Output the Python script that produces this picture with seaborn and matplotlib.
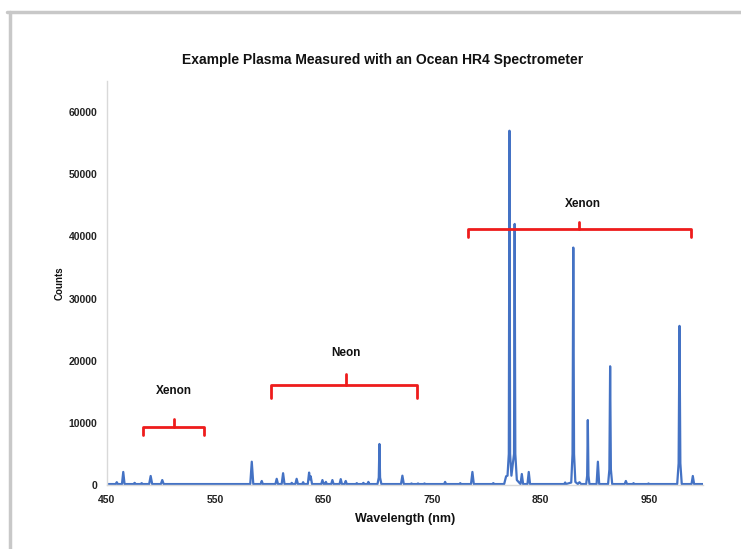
import matplotlib
matplotlib.use("Agg")
import matplotlib.pyplot as plt
from matplotlib.lines import Line2D
import seaborn as sns
import pandas as pd

# ---------------- data ----------------
wavelength = [
    450, 458, 459, 460, 463.8, 465, 466.2, 470, 474.5, 475.5, 476.5, 481, 482, 483,
    488.9, 490.3, 491.7, 499.7, 501, 502.3, 520, 560, 575, 582.2, 583.6, 585.0,
    591.8, 592.8, 593.8, 605.4, 606.6, 607.8, 611.2, 612.5, 613.8, 619.6, 620.5, 621.4,
    623.8, 625, 626.2, 630.1, 631, 631.9, 635.3, 636.5, 637.2, 638, 639.2,
    647.7, 648.8, 649.9, 651.1, 652, 652.9, 656.9, 658, 659.1, 664.6, 665.7, 666.8,
    669.3, 670.3, 671.3, 679.6, 680.5, 681.4, 685.7, 686.6, 687.5, 690.3, 691.2, 692.1,
    699.6, 700.8, 701.4, 702.0, 703.2, 721.3, 722.6, 723.9, 730.2, 731, 731.8,
    736.2, 737, 737.8, 742.2, 743, 743.8, 761.1, 762, 762.9, 775.2, 776, 776.8,
    785.9, 787.2, 788.5, 800, 805.5, 806.5, 807.5, 816.5, 818.3, 819.6, 820.8, 821.4,
    822.0, 823.2, 825.6, 826.2, 826.8, 828.2, 831.6, 832.8, 834.0,
    838.0, 839.2, 840.4, 855, 871.9, 872.8, 873.7, 878.4, 879.6, 880.3, 881.0,
    882.2, 884.5, 886, 887.5, 892.2, 893.1, 893.7, 894.3, 895.2, 901.8, 903, 904.2,
    912.4, 913.6, 914.3, 915.0, 916.2, 927.7, 928.8, 929.9, 935.1, 935.9, 936.7,
    949, 949.7, 950.4, 976.2, 977.5, 978.3, 979.1, 980.4, 989.4, 990.6, 991.8, 1000,
]
counts = [
    150, 150, 450, 150, 150, 2100, 150, 150, 150, 350, 150, 150, 300, 150,
    150, 1450, 150, 150, 800, 150, 150, 150, 150, 150, 3750, 150,
    150, 650, 150, 150, 1000, 150, 150, 1900, 150, 150, 350, 150,
    150, 1000, 150, 150, 450, 150, 150, 2000, 900, 1400, 150,
    150, 800, 150, 150, 500, 150, 150, 800, 150, 150, 950, 150,
    150, 650, 150, 150, 300, 150, 150, 350, 150, 150, 500, 150,
    150, 1200, 6600, 1200, 150, 150, 1500, 150, 150, 250, 150,
    150, 250, 150, 150, 250, 150, 150, 500, 150, 150, 300, 150,
    150, 2100, 150, 150, 150, 300, 150, 150, 1400, 1500, 5000, 57000,
    5000, 1500, 5000, 42000, 5000, 800, 150, 1770, 150,
    150, 2100, 150, 150, 150, 400, 150, 400, 5000, 38200, 5000,
    500, 150, 450, 150, 150, 1500, 10450, 1500, 150, 150, 3750, 150,
    150, 2500, 19100, 2500, 150, 150, 650, 150, 150, 300, 150,
    150, 250, 150, 150, 3500, 25600, 3500, 150, 150, 1450, 150, 150,
]

x_ticks = [450, 550, 650, 750, 850, 950]
y_ticks = [0, 10000, 20000, 30000, 40000, 50000, 60000]

title_text = "Example Plasma Measured with an Ocean HR4 Spectrometer"
x_label = "Wavelength (nm)"
y_label = "Counts"

# brackets: (left, right, centre, bar level, tip, ends) in data units
bracket_names = ["Xenon", "Neon", "Xenon"]
bracket_left = [483, 601, 783]
bracket_right = [539.5, 736.5, 988.8]
bracket_mid = [512, 670.6, 886]
bracket_bar = [9380, 16080, 41130]
bracket_tip = [10570, 17850, 42350]
bracket_end = [8040, 13940, 39840]
label_x = [512, 670.6, 889.5]
label_y = [15100, 21200, 45200]

# ---------------- plot ----------------
sns.set_theme(style="white")
plt.rcParams["font.family"] = ["Liberation Sans", "DejaVu Sans"]

df = pd.DataFrame({"wavelength": wavelength, "counts": counts})

fig = plt.figure(figsize=(7.41, 5.49), dpi=100)
ax = fig.add_axes([107 / 741, 1 - 485 / 549, (703 - 107) / 741, (485 - 81) / 549])

sns.lineplot(data=df, x="wavelength", y="counts", ax=ax, color="#4472C4",
             linewidth=1.6, sort=False, estimator=None)

ax.set_xlim(450, 1000)
ax.set_ylim(0, 65000)
ax.set_xticks(x_ticks)
ax.set_yticks(y_ticks)
ax.set_xticklabels([str(t) for t in x_ticks], fontsize=7.5, fontweight="bold", color="#222222")
ax.set_yticklabels([str(t) for t in y_ticks], fontsize=7.5, fontweight="bold", color="#222222")
ax.tick_params(axis="both", length=0)
ax.tick_params(axis="y", pad=7)
ax.tick_params(axis="x", pad=7)

for side in ["top", "right"]:
    ax.spines[side].set_visible(False)
for side in ["left", "bottom"]:
    ax.spines[side].set_color("#d9d9d9")
    ax.spines[side].set_linewidth(1.0)

ax.set_xlabel(x_label, fontsize=9, fontweight="bold", color="#111111", labelpad=6)
ax.set_ylabel(y_label, fontsize=7, fontweight="bold", color="#111111", labelpad=3)

fig.text(383 / 741, 1 - 60 / 549, title_text, ha="center", va="center",
         fontsize=10, fontweight="bold", color="#111111")

red = "#ee1c1c"
for i in range(len(bracket_names)):
    l, r, m = bracket_left[i], bracket_right[i], bracket_mid[i]
    bar, tip, end = bracket_bar[i], bracket_tip[i], bracket_end[i]
    ax.plot([l, l, r, r], [end, bar, bar, end], color=red, linewidth=2.0,
            solid_joinstyle="round", solid_capstyle="round", clip_on=False)
    ax.plot([m, m], [bar, tip], color=red, linewidth=2.0,
            solid_capstyle="round", clip_on=False)
    ax.text(label_x[i], label_y[i], bracket_names[i], ha="center", va="center",
            fontsize=8.5, fontweight="bold", color="#111111")

# document picture frame (gray border on top and left)
fig.add_artist(Line2D([7 / 741, 1.0], [1 - 12 / 549, 1 - 12 / 549],
                      color="#c8c8c8", linewidth=2.5, transform=fig.transFigure))
fig.add_artist(Line2D([10 / 741, 10 / 741], [0.0, 1 - 12 / 549],
                      color="#c8c8c8", linewidth=2.5, transform=fig.transFigure))

fig.savefig("out.png", dpi=100, facecolor="white")
